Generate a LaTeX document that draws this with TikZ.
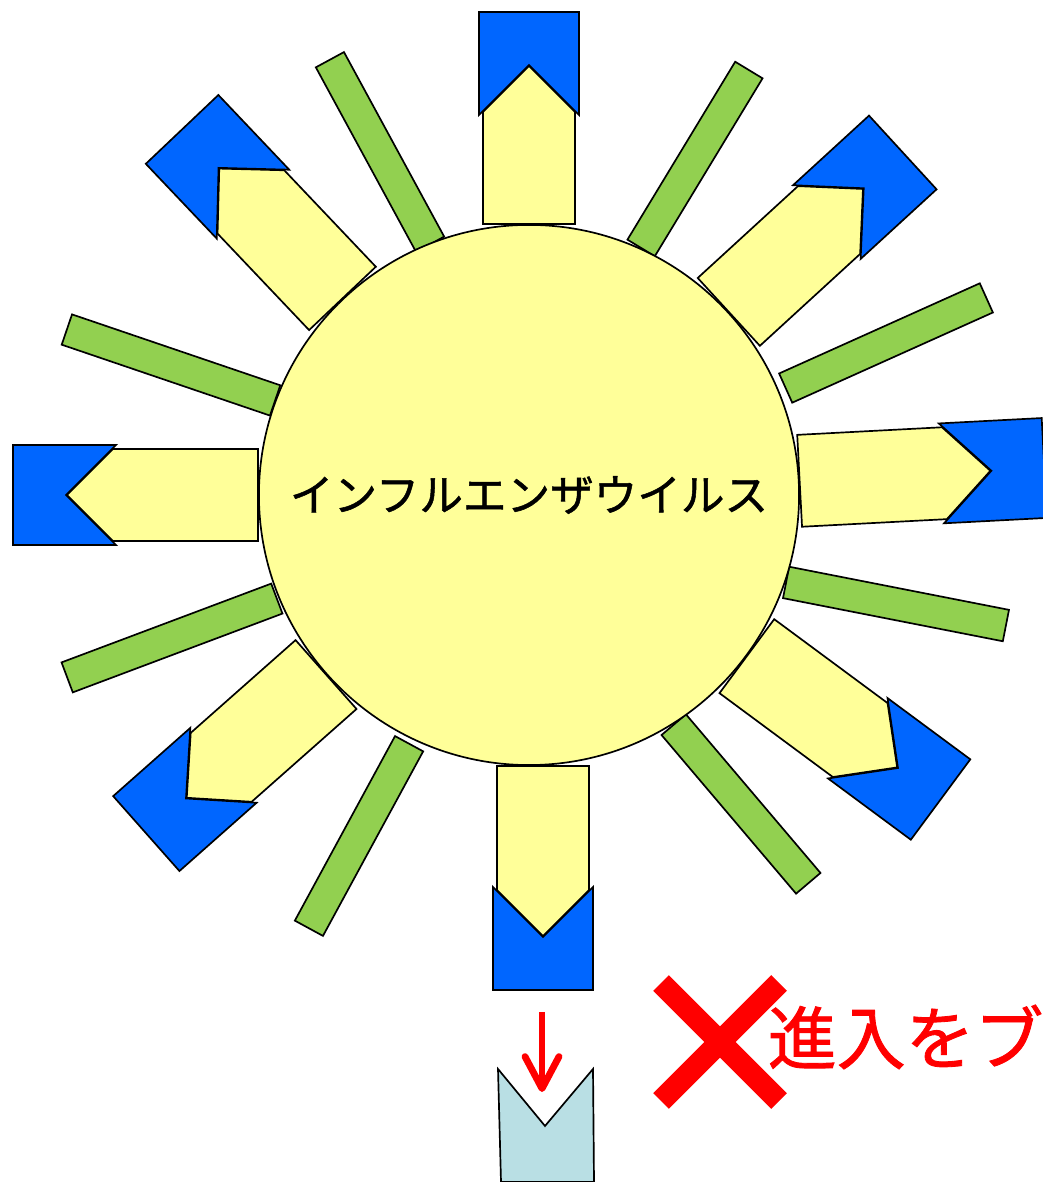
\documentclass[tikz,border=0pt]{standalone}
\usepackage{fontspec}
\newfontfamily\jpfont{Noto Sans CJK JP}[FakeBold=1.2]
\usepackage{tikz}
\usetikzlibrary{arrows.meta}

\definecolor{virusYellow}{HTML}{FFFF99}
\definecolor{barGreen}{HTML}{92D050}
\definecolor{capBlue}{HTML}{0066FF}
\definecolor{cellBlue}{HTML}{B9DFE4}

\begin{document}
\begin{tikzpicture}[x=0.025cm,y=0.025cm,line width=1.2pt,
      green bar/.style={draw,fill=barGreen},
      spike arrow/.style={draw,fill=virusYellow},
      blue cap/.style={draw,fill=capBlue},
      host cell/.style={draw,fill=cellBlue},
      block arrow/.style={red,line width=0.17cm,-{Straight Barb[length=0.8cm,width=0.85cm,round]}}]

      \useasboundingbox (0,0) rectangle (1042,1182);

      % green bars behind the circle
      \foreach \cx/\cy/\b/\l in {380/1030/118.5/105, 695/1023/58.8/104,
          886/839/24.2/110, 171/817/161.2/110, 896/578/-11.1/112,
          172/544/200.6/112, 359/346/241.5/105, 741/378/-49.7/104}
        \draw[green bar,shift={(\cx,\cy)},rotate=\b]
          (-\l,-16) -- (\l,-16) -- (\l,16) -- (-\l,16) -- cycle;

      % yellow arrows with blue caps
      \foreach \a/\s/\d in {90/383/0, 42.5/407/0, 3/416/0, 133.5/404/0,
          180/416/0, 221.5/411/0, -36.5/412/0, -90/395/14}
      {
        \begin{scope}[shift={(529,687)},rotate=\a,shift={(0,\d)}]
          \draw[spike arrow] (271,-46) -- (\s,-46) -- (\s+46,0) -- (\s,46) -- (271,46) -- cycle;
          \draw[blue cap] (\s-3,-50) -- (\s+47,0) -- (\s-3,50) -- (\s+100,50) -- (\s+100,-50) -- cycle;
        \end{scope}
      }

      \node[circle,draw,fill=virusYellow,minimum size=13.5cm,inner sep=0pt,
        font=\jpfont\fontsize{31}{37}\selectfont] (virus) at (529,687) {インフルエンザウイルス};

      % blocked entry
      \draw[host cell] (498,113) -- (545,56) -- (593,113) -- (594,0) -- (501,0) -- cycle;
      \coordinate (arrow top) at (542,170);
      \coordinate (arrow tip) at (542,90);
      \draw[block arrow] (arrow top) -- (arrow tip);

      \draw[red,line width=0.55cm] (661,199) -- (779,81) (661,81) -- (779,199);
      \node[anchor=west,inner sep=0pt,text=red,
        font=\jpfont\fontsize{49}{58}\selectfont] (block text) at (767,145) {進入をブ};
    \end{tikzpicture}
\end{document}
